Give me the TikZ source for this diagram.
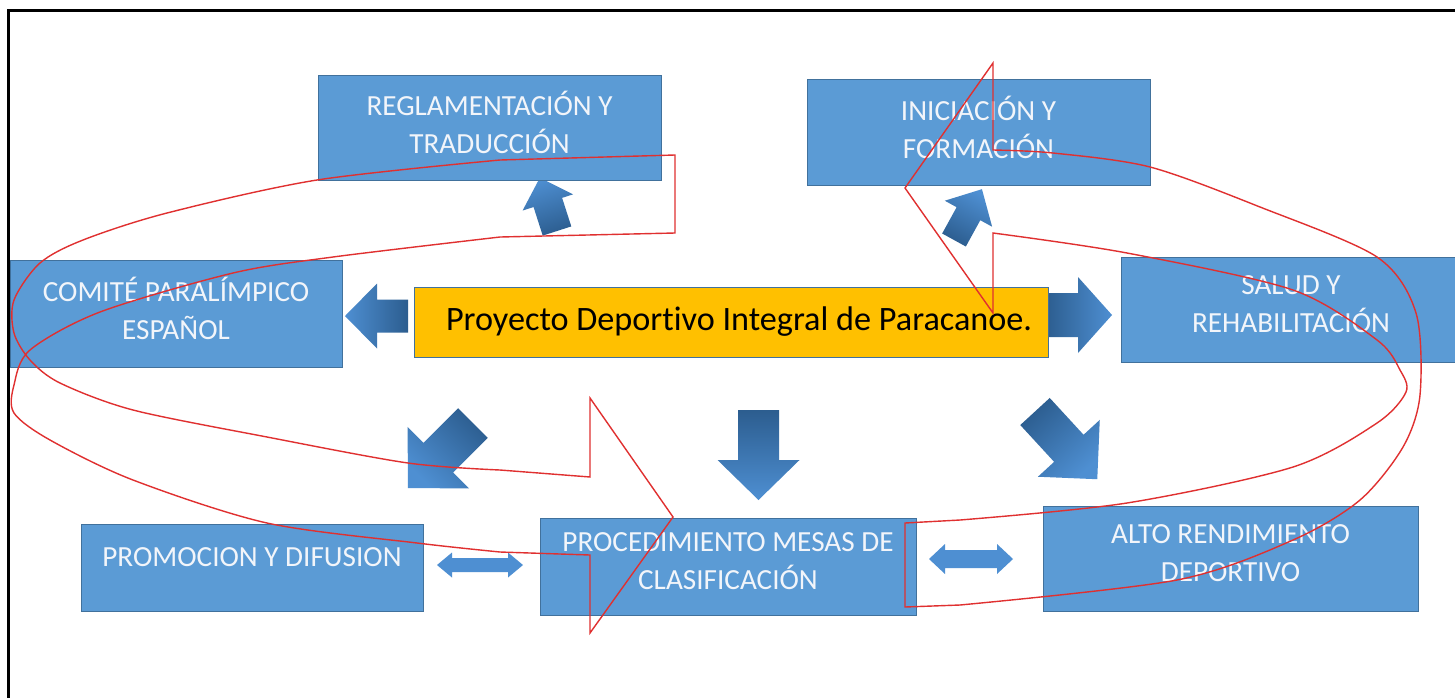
\documentclass[tikz,border=0pt]{standalone}
\usepackage{fontspec}
\setmainfont{Carlito}[Ligatures=NoCommon]
\usepackage{tikz}
\definecolor{cajaazul}{HTML}{5B9BD5}
\definecolor{bordeazul}{HTML}{41719C}
\definecolor{amarillo}{HTML}{FFC000}
\definecolor{textoclaro}{HTML}{F2F5FA}
\definecolor{pijloscuro}{HTML}{2C5D8F}
\definecolor{pijlclaro}{HTML}{4E8FD2}
\definecolor{rojo}{HTML}{E03030}
\tikzset{every picture/.style={line width=0.75pt}}

% block arrow: tail x, tail y, angle, length, head width, body width, head length
\newcommand\flecha[7]{%
  \pgfmathsetmacro\angsombra{#3-90}
  \begin{scope}[shift={(#1,#2)},rotate=#3]
    \shade[pijl, shading angle=\angsombra] (0,-#6/2) -- ({#4-#7},-#6/2) -- ({#4-#7},-#5/2) -- (#4,0)
      -- ({#4-#7},#5/2) -- ({#4-#7},#6/2) -- (0,#6/2) -- cycle;
  \end{scope}}
% double arrow: centre x, centre y, length, head width, body width, head length
\newcommand\dobleflecha[6]{%
  \begin{scope}[shift={(#1,#2)}]
    \shade[dpijl] ({-#3/2},0) -- ({-#3/2+#6},-#4/2) -- ({-#3/2+#6},-#5/2)
      -- ({#3/2-#6},-#5/2) -- ({#3/2-#6},-#4/2) -- ({#3/2},0)
      -- ({#3/2-#6},#4/2) -- ({#3/2-#6},#5/2) -- ({-#3/2+#6},#5/2)
      -- ({-#3/2+#6},#4/2) -- cycle;
  \end{scope}}

\begin{document}
\begin{tikzpicture}[x=0.5pt,y=-0.5pt,
    caja/.style={draw=bordeazul, line width=0.5pt, fill=cajaazul, text=textoclaro,
      inner sep=0pt, align=center, text depth=5pt, font=\fontsize{14.6}{19}\selectfont},
    centro/.style={caja, fill=amarillo, text=black, text depth=, font=\fontsize{17.1}{19}\selectfont},
    pijl/.style={top color=pijlclaro, bottom color=pijloscuro},
    dpijl/.style={left color=pijlclaro, middle color=pijloscuro, right color=pijlclaro},
    rojolinea/.style={draw=rojo, line width=0.7pt, line join=miter}]
\useasboundingbox (0,0) rectangle (1455,697);
\fill[white] (0,0) rectangle (1455,697);
\draw[line width=1.5pt] (8,705) -- (8,10) -- (1465,10);

% arrows
\flecha{408}{316}{180}{63}{65}{33}{32}
\flecha{1046}{315}{0}{66}{76}{44}{34}
\flecha{557}{231}{107.8}{56}{53}{30}{26}
\flecha{954}{240}{61.2}{58}{54}{27}{28}
\flecha{473}{423}{225}{92}{87}{42}{43}
\flecha{1035}{411.5}{312.6}{92}{84}{40}{42}
\flecha{758.5}{410}{270}{90}{82}{41}{40}
\dobleflecha{480}{565}{86}{25}{14}{15}
\dobleflecha{971}{559}{84}{30}{18}{16}

% boxes
\node[centro, minimum width=317pt, minimum height=35pt] (proy) at (731,322) {\hspace{8pt}Proyecto Deportivo Integral de Paracanoe.};
\node[caja, minimum width=171.5pt, minimum height=52.5pt] (regla) at (489.5,127.5) {REGLAMENTACIÓN Y\\TRADUCCIÓN};
\node[caja, minimum width=171.5pt, minimum height=53pt] (inic) at (978.5,132) {INICIACIÓN Y\\FORMACIÓN};
\node[caja, minimum width=166pt, minimum height=53.5pt] (comite) at (176,313.5) {COMITÉ PARALÍMPICO\\ESPAÑOL};
\node[caja, minimum width=170pt, minimum height=52.5pt] (salud) at (1291,309.5) {SALUD Y\\REHABILITACIÓN};
\node[caja, minimum width=171pt, minimum height=43.5pt,
  label={[text=textoclaro, font=\fontsize{14.6}{19}\selectfont, yshift=5pt]center:PROMOCION Y DIFUSION}] (promo) at (252,567.5) {};
\node[caja, minimum width=188pt, minimum height=48.5pt] (proc) at (728,566.5) {PROCEDIMIENTO MESAS DE\\CLASIFICACIÓN};
\node[caja, minimum width=187.5pt, minimum height=52.5pt] (alto) at (1230.5,558.5) {ALTO RENDIMIENTO\\DEPORTIVO};

% red outlines
\draw[rojolinea] (675,155) -- plot[smooth] coordinates {(500,160) (317,180) (167,213) (83,240) (40,263) (14,300) (14,333) (30,360) (60,383) (133,410) (267,437) (408,463) (500,470)}
  -- (590,477) -- (590,398) -- (673,517) -- (590,633) -- (590,555)
  -- plot[smooth] coordinates {(500,552) (417,543) (267,523) (133,480) (50,440) (14,413) (14,385) (30,350) (100,312) (233,273) (333,257) (500,237)}
  -- (675,233) -- cycle;
\draw[rojolinea] (905,523) -- plot[smooth] coordinates {(960,520) (1127,503) (1293,467) (1377,423) (1406,392) (1400,370) (1377,340) (1293,290) (1127,253) (993,233)}
  -- (993,313) -- (905,188) -- (993,63) -- (993,150)
  -- plot[smooth] coordinates {(993,150) (1053,153) (1150,167) (1260,207) (1377,257) (1416,313) (1420,395) (1403,447) (1360,500) (1293,540) (1177,580) (960,605)}
  -- (905,607) -- cycle;
\end{tikzpicture}
\end{document}
